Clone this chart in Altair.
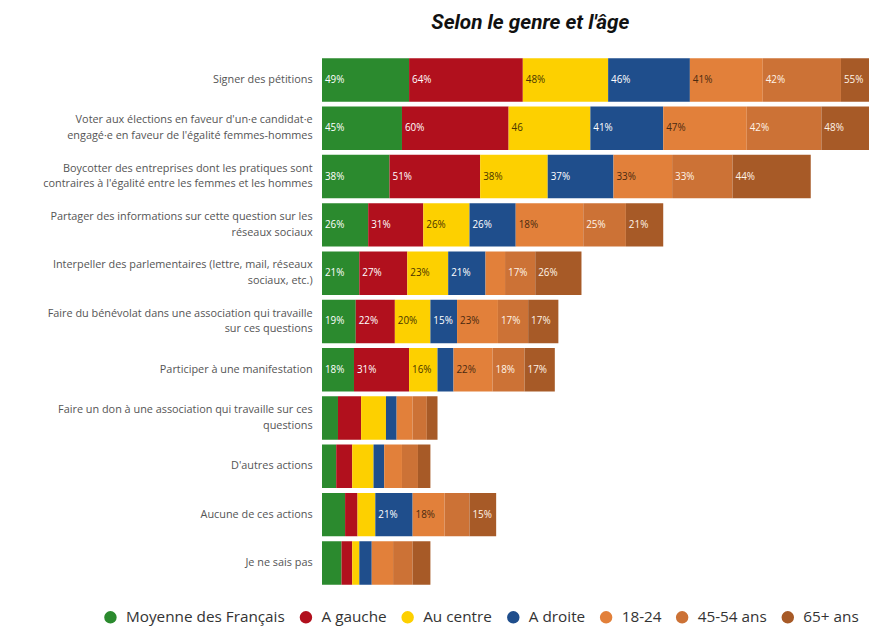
import altair as alt
import pandas as pd

title_text = "Selon le genre et l'âge"

actions = [
    "Signer des pétitions",
    "Voter aux élections en faveur d'un·e candidat·e|engagé·e en faveur de l'égalité femmes-hommes",
    "Boycotter des entreprises dont les pratiques sont|contraires à l'égalité entre les femmes et les hommes",
    "Partager des informations sur cette question sur les|réseaux sociaux",
    "Interpeller des parlementaires (lettre, mail, réseaux|sociaux, etc.)",
    "Faire du bénévolat dans une association qui travaille|sur ces questions",
    "Participer à une manifestation",
    "Faire un don à une association qui travaille sur ces|questions",
    "D'autres actions",
    "Aucune de ces actions",
    "Je ne sais pas",
]

series = ["Moyenne des Français", "A gauche", "Au centre", "A droite", "18-24", "45-54 ans", "65+ ans"]
colors = ["#2b8a2e", "#b1101d", "#fdd000", "#1f4e8c", "#e2803a", "#cc7236", "#a75a27"]
label_colors = ["#ffffff", "#ffffff", "#4a3500", "#ffffff", "#4a2a10", "#fff4e8", "#fff4e8"]

moyenne = [49, 45, 38, 26, 21, 19, 18, 9, 8, 13, 11]
gauche = [64, 60, 51, 31, 27, 22, 31, 13, 9, 7, 6]
centre = [48, 46, 38, 26, 23, 20, 16, 14, 12, 10, 4]
droite = [46, 41, 37, 26, 21, 15, 9, 6, 6, 21, 7]
age_18_24 = [41, 47, 33, 38, 11, 23, 22, 9, 10, 18, 12]
age_45_54 = [44, 42, 34, 24, 17, 17, 18, 8, 9, 14, 11]
age_65 = [55, 48, 44, 21, 26, 17, 17, 6, 7, 15, 10]

moyenne_lbl = ["49%", "45%", "38%", "26%", "21%", "19%", "18%", "", "", "", ""]
gauche_lbl = ["64%", "60%", "51%", "31%", "27%", "22%", "31%", "", "", "", ""]
centre_lbl = ["48%", "46", "38%", "26%", "23%", "20%", "16%", "", "", "", ""]
droite_lbl = ["46%", "41%", "37%", "26%", "21%", "15%", "", "", "", "21%", ""]
age_18_24_lbl = ["41%", "47%", "33%", "18%", "", "23%", "22%", "", "", "18%", ""]
age_45_54_lbl = ["42%", "42%", "33%", "25%", "17%", "17%", "18%", "", "", "", ""]
age_65_lbl = ["55%", "48%", "44%", "21%", "26%", "17%", "17%", "", "", "15%", ""]

values = [moyenne, gauche, centre, droite, age_18_24, age_45_54, age_65]
labels = [moyenne_lbl, gauche_lbl, centre_lbl, droite_lbl, age_18_24_lbl, age_45_54_lbl, age_65_lbl]

rows = []
for si, s in enumerate(series):
    for ai, a in enumerate(actions):
        rows.append({
            "action": a,
            "series": s,
            "order": si,
            "value": values[si][ai],
            "label": labels[si][ai],
            "lcolor": label_colors[si],
        })
df = pd.DataFrame(rows)

PX_PER_UNIT = 1.8
W = 554
H = 539
XMAX = W / PX_PER_UNIT

base = alt.Chart(df).transform_stack(
    stack="value", as_=["x0", "x1"], groupby=["action"],
    sort=[alt.SortField("order", order="ascending")]
)

yenc = alt.Y(
    "action:N", sort=actions,
    scale=alt.Scale(paddingInner=0.1, paddingOuter=0.06),
    axis=alt.Axis(title=None, domain=False, ticks=False,
                  labelExpr="split(datum.label, '|')",
                  labelFont="Open Sans", labelFontSize=11, labelColor="#555555",
                  labelPadding=10, labelLimit=400, labelLineHeight=16,
                  labelOffset={"condition": {"test": "indexof(datum.value, '|') >= 0", "value": -8}, "value": 0}),
)
xscale = alt.Scale(domain=[0, XMAX], nice=False, zero=False)

bars = base.mark_bar(clip=True).encode(
    x=alt.X("x0:Q", scale=xscale, axis=None),
    x2="x1:Q",
    y=yenc,
    color=alt.Color(
        "series:N",
        scale=alt.Scale(domain=series, range=colors),
        legend=alt.Legend(
            orient="none", legendX=-222, legendY=561, direction="horizontal",
            columns=7, title=None, symbolType="circle", symbolSize=160,
            symbolStrokeWidth=0, labelFont="Open Sans", labelFontSize=15.5,
            labelColor="#333333", columnPadding=13, labelOffset=8, labelLimit=400,
        ),
    ),
    order=alt.Order("order:Q"),
)

texts = base.mark_text(
    align="left", baseline="middle", dx=3, font="Open Sans", fontSize=10, clip=True
).encode(
    x=alt.X("x0:Q", scale=xscale, axis=None),
    y=yenc,
    text="label:N",
    color=alt.Color("lcolor:N", scale=None),
)

title_df = pd.DataFrame({"t": [title_text]})
title = alt.Chart(title_df).mark_text(
    font="Roboto", fontSize=21, fontWeight="bold", fontStyle="italic",
    align="center", baseline="alphabetic", color="#111111"
).encode(text="t:N", x=alt.value(211), y=alt.value(-27))

chart = alt.layer(bars, texts, title).properties(
    width=W, height=H,
    autosize=alt.AutoSizeParams(type="none"),
    padding={"left": 318, "top": 44, "right": 0, "bottom": 38},
).configure_view(stroke=None)

chart.save("out.html", embed_options={"renderer": "svg", "actions": False})
